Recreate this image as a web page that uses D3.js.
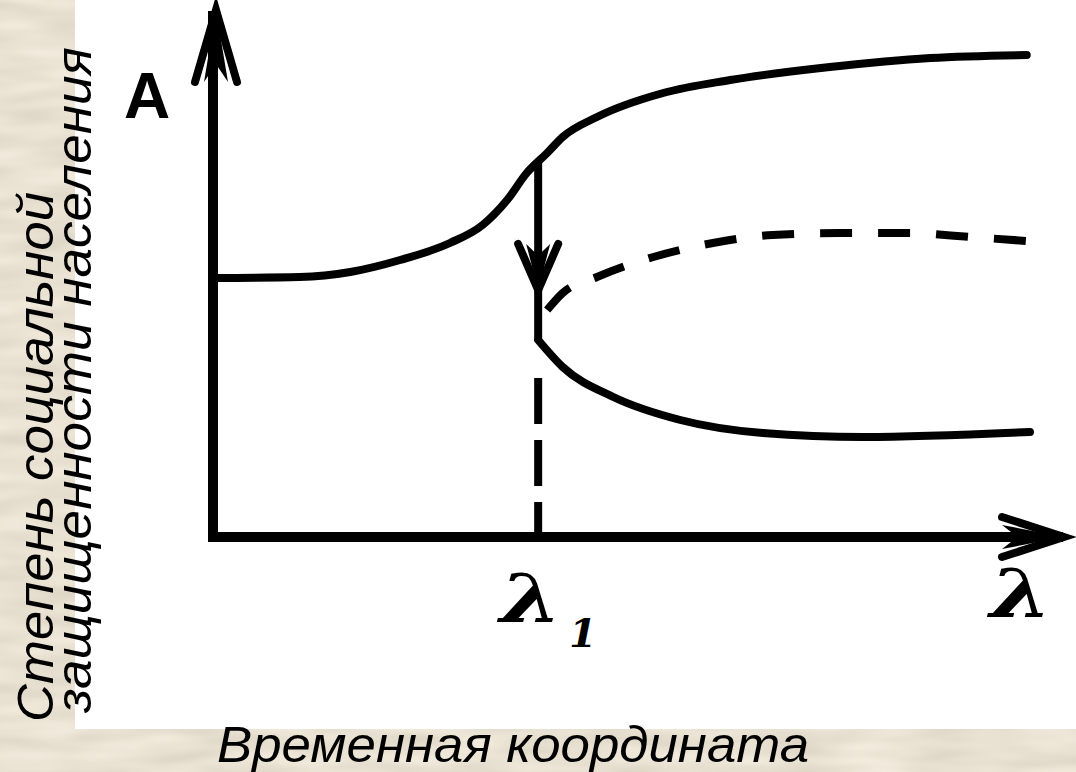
<!DOCTYPE html>
<html>
<head>
<meta charset="utf-8">
<script src="https://cdn.jsdelivr.net/npm/d3@7"></script>
<style>
  html, body { margin: 0; padding: 0; background: #d8cab2; }
  svg { display: block; }
</style>
</head>
<body>
<div id="chart"></div>
<script>
// branch curves (x: 0..100 along λ, y: 0..100 along A)
const upperBranch = [
  [0, 51.8], [10.6, 52], [16.8, 53], [22.9, 55.4], [29, 58.8], [33, 62.4],
  [36, 67.4], [38.4, 72.8], [40.9, 76.8], [42.8, 80], [47, 84], [55.1, 88.8],
  [63.3, 91.4], [75.5, 94], [87.8, 95.8], [99.6, 96.4]
];
const dashedBranch = [
  [40.9, 45.4], [42.8, 48.8], [47, 52], [53.9, 56], [61.2, 58.8], [68.5, 60.4],
  [76.7, 60.8], [84.9, 60.8], [92.7, 60], [99.6, 59.2]
];
const lowerBranch = [
  [39.8, 39.4], [42.8, 34], [49, 28], [57.2, 23.4], [67.3, 20.8], [79.6, 20], [100, 21]
];
const lambda1 = 39.8;
const jumpFrom = 74.8;   // where the drop starts on the upper branch
const jumpTip = 49.4;    // arrow tip
const jumpTo = 39.4;     // lands on the lower branch
const dropDashTop = 31.8;

const yTitle = ['Степень социальной', 'защищенности населения'];
const xTitle = 'Временная координата';

const width = 1076;
const height = 772;

const svg = d3.select('#chart')
  .append('svg')
  .attr('width', width)
  .attr('height', height);

// textured backdrop
const defs = svg.append('defs');
const f = defs.append('filter').attr('id', 'paper')
  .attr('x', 0).attr('y', 0).attr('width', '100%').attr('height', '100%');
f.append('feTurbulence')
  .attr('type', 'fractalNoise')
  .attr('baseFrequency', '0.012 0.06')
  .attr('numOctaves', 2)
  .attr('seed', 7)
  .attr('result', 'noise');
f.append('feColorMatrix')
  .attr('in', 'noise')
  .attr('type', 'matrix')
  .attr('values', '0 0 0 0.26 0.68  0 0 0 0.26 0.62  0 0 0 0.26 0.51  0 0 0 0 1');

svg.append('rect')
  .attr('width', width).attr('height', height)
  .attr('filter', 'url(#paper)');

svg.append('rect')
  .attr('x', 75).attr('y', 0)
  .attr('width', width - 75).attr('height', 729)
  .attr('fill', '#fff');

const x = d3.scaleLinear().domain([0, 100]).range([213, 1030]);
const y = d3.scaleLinear().domain([0, 100]).range([537, 37]);

const line = d3.line()
  .x(d => x(d[0]))
  .y(d => y(d[1]))
  .curve(d3.curveMonotoneX);

const ink = '#000';

// axes
const x0 = x(0), y0 = y(0);
svg.append('path')
  .attr('d', `M${x0},${y0} L${x0},16 M${x0},${y0} L1058,${y0}`)
  .attr('fill', 'none')
  .attr('stroke', ink)
  .attr('stroke-width', 10)
  .attr('stroke-linecap', 'square');

// arrowheads (tip, direction)
const arrowHead = (tx, ty, dx, dy, len, spread) => {
  const px = -dy, py = dx;
  const bx = tx - dx * len, by = ty - dy * len;
  svg.append('path')
    .attr('d', `M${bx + px * spread},${by + py * spread} L${tx},${ty} L${bx - px * spread},${by - py * spread}`)
    .attr('fill', 'none')
    .attr('stroke', ink)
    .attr('stroke-width', 8)
    .attr('stroke-linejoin', 'miter')
    .attr('stroke-linecap', 'round');
  svg.append('path')
    .attr('d', `M${tx},${ty} L${bx + px * 12},${by + py * 12} L${tx - dx * len * 0.75},${ty - dy * len * 0.75} L${bx - px * 12},${by - py * 12} Z`)
    .attr('fill', ink);
};
arrowHead(x0 + 3, 10, 0, -1, 72, 21);
arrowHead(1064, y0, 1, 0, 62, 20);

// branches
svg.append('path')
  .attr('d', line(upperBranch))
  .attr('fill', 'none')
  .attr('stroke', ink)
  .attr('stroke-width', 8)
  .attr('stroke-linecap', 'round');

svg.append('path')
  .attr('d', line(lowerBranch))
  .attr('fill', 'none')
  .attr('stroke', ink)
  .attr('stroke-width', 8)
  .attr('stroke-linecap', 'round');

svg.append('path')
  .attr('d', line(dashedBranch))
  .attr('fill', 'none')
  .attr('stroke', ink)
  .attr('stroke-width', 8)
  .attr('stroke-dasharray', '32,26');

// jump at λ1
svg.append('line')
  .attr('x1', x(lambda1)).attr('x2', x(lambda1))
  .attr('y1', y(jumpFrom)).attr('y2', y(jumpTo))
  .attr('stroke', ink)
  .attr('stroke-width', 8);
arrowHead(x(lambda1), y(jumpTip), 0, 1, 46, 20);

svg.append('line')
  .attr('x1', x(lambda1)).attr('x2', x(lambda1))
  .attr('y1', y(dropDashTop)).attr('y2', y0)
  .attr('stroke', ink)
  .attr('stroke-width', 8)
  .attr('stroke-dasharray', '46,16');

// symbols
svg.append('text')
  .attr('x', 124).attr('y', 118)
  .attr('font-family', 'Liberation Sans, Arial, sans-serif')
  .attr('font-weight', 'bold')
  .attr('font-size', 64)
  .attr('fill', ink)
  .text('A');

const lambdaText = (tx, ty) => svg.append('text')
  .attr('transform', `translate(${tx},${ty}) scale(1.3,1)`)
  .attr('font-family', 'DejaVu Serif, serif')
  .attr('font-style', 'italic')
  .attr('font-weight', 'bold')
  .attr('font-size', 68)
  .attr('fill', ink)
  .text('λ');
lambdaText(990, 617);
lambdaText(500, 622);
svg.append('text')
  .attr('x', 569).attr('y', 647)
  .attr('font-family', 'DejaVu Serif, serif')
  .attr('font-style', 'italic')
  .attr('font-weight', 'bold')
  .attr('font-size', 40)
  .attr('fill', ink)
  .text('1');

// titles
const titleFont = 'Liberation Sans, Arial, sans-serif';
svg.append('g')
  .attr('transform', 'translate(53,722) rotate(-90)')
  .append('text')
  .attr('font-family', titleFont)
  .attr('font-style', 'italic')
  .attr('font-size', 50)
  .attr('fill', ink)
  .attr('textLength', 530)
  .attr('lengthAdjust', 'spacingAndGlyphs')
  .text(yTitle[0]);
svg.append('g')
  .attr('transform', 'translate(91,713) rotate(-90)')
  .append('text')
  .attr('font-family', titleFont)
  .attr('font-style', 'italic')
  .attr('font-size', 50)
  .attr('fill', ink)
  .attr('textLength', 666)
  .attr('lengthAdjust', 'spacingAndGlyphs')
  .text(yTitle[1]);

svg.append('text')
  .attr('x', 217).attr('y', 762)
  .attr('font-family', titleFont)
  .attr('font-style', 'italic')
  .attr('font-size', 50)
  .attr('fill', ink)
  .attr('textLength', 592)
  .attr('lengthAdjust', 'spacingAndGlyphs')
  .text(xTitle);
</script>
</body>
</html>
